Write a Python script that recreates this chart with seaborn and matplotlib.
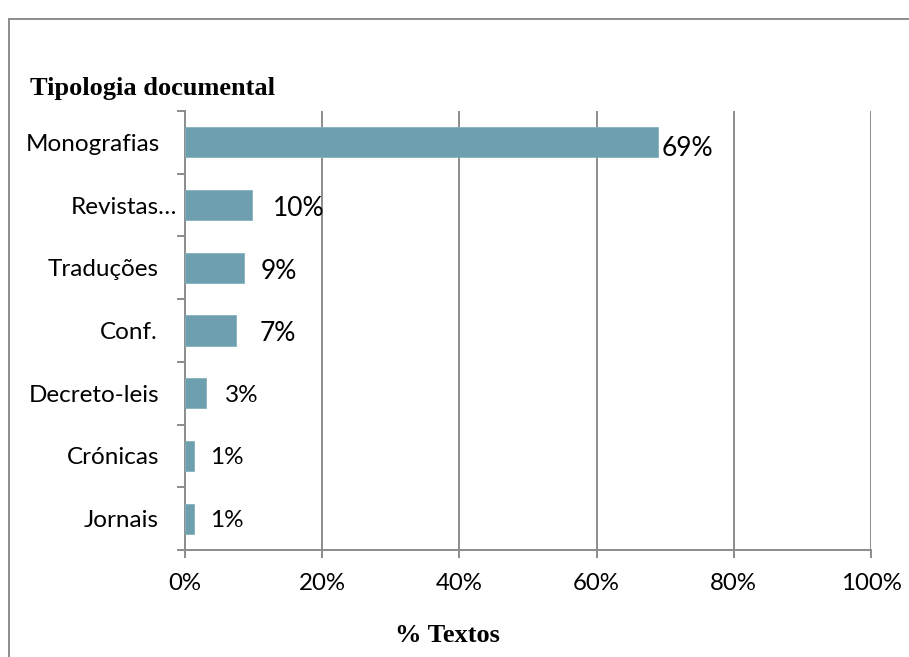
import matplotlib
matplotlib.use("Agg")
import matplotlib.pyplot as plt
from matplotlib.patches import Rectangle
from matplotlib.ticker import FixedLocator, PercentFormatter
import seaborn as sns
import pandas as pd

categories = ["Monografias", "Revistas…", "Traduções", "Conf.", "Decreto-leis", "Crónicas", "Jornais"]
values = [68.95, 9.8, 8.6, 7.4, 3.1, 1.3, 1.3]
value_labels = ["69%", "10%", "9%", "7%", "3%", "1%", "1%"]
x_ticks = [0, 20, 40, 60, 80, 100]

# style (not data)
label_dx_px = [4, 21, 17, 24, 19, 16, 16]
label_dy_px = [-6, -3, -4, -3, -2, -2, -2]
label_size = [19, 19, 19, 19, 17.5, 17.5, 17.5]
cat_gap_px = [25, 8, 26, 27, 26, 26, 26]

sns.set_theme(style="white")
plt.rcParams["font.family"] = ["Lato", "DejaVu Sans"]

W, H, DPI = 909, 657, 100
fig = plt.figure(figsize=(W / DPI, H / DPI), dpi=DPI)
fig.patch.set_facecolor("white")
ax = fig.add_axes([185 / W, 1 - 550 / H, (871 - 185) / W, (550 - 111) / H])

df = pd.DataFrame({"cat": categories, "val": values})
sns.barplot(data=df, x="val", y="cat", orient="h", color="#6E9FAF",
            saturation=1, width=0.48, ax=ax, edgecolor="#86B0BE", linewidth=0.6, zorder=3)

grid_c = "#8C8C8C"
ax.set_xlim(0, 100)
ax.set_ylim(len(categories) - 0.5, -0.5)
ax.xaxis.set_major_locator(FixedLocator(x_ticks))
ax.xaxis.set_major_formatter(PercentFormatter(decimals=0))
ax.grid(axis="x", color=grid_c, linewidth=1.4, zorder=0)
ax.grid(axis="y", visible=False)

for s in ["top", "right"]:
    ax.spines[s].set_visible(False)
for s in ["left", "bottom"]:
    ax.spines[s].set_color(grid_c)
    ax.spines[s].set_linewidth(1.4)

ax.tick_params(axis="x", which="major", length=5.5, width=1.4, color=grid_c,
               labelsize=17.3, pad=11, labelcolor="black", bottom=True)
# y: ticks at category boundaries; labels drawn as text
ax.set_yticks(range(len(categories)))
ax.set_yticklabels([""] * len(categories))
ax.tick_params(axis="y", which="major", length=0)
ax.yaxis.set_minor_locator(FixedLocator([i - 0.5 for i in range(len(categories) + 1)]))
ax.tick_params(axis="y", which="minor", length=5.5, width=1.4, color=grid_c, left=True)

ax.set_xlabel("")
ax.set_ylabel("")

for i, cat in enumerate(categories):
    ax.annotate(cat, xy=(0, i), xytext=(-cat_gap_px[i] * 0.72, -2 * 0.72),
                textcoords="offset points", ha="right", va="center",
                fontsize=17.5, color="black", annotation_clip=False)

for i, (v, lab) in enumerate(zip(values, value_labels)):
    ax.annotate(lab, xy=(v, i), xytext=(label_dx_px[i] * 0.72, label_dy_px[i] * 0.72),
                textcoords="offset points", ha="left", va="center",
                fontsize=label_size[i], color="black", zorder=4)

fig.text(30 / W, 1 - 88 / H, "Tipologia documental", family="Liberation Serif",
         weight="bold", fontsize=19, ha="left", va="center", color="black")
fig.text(447 / W, 1 - 635 / H, "% Textos", family="Liberation Serif",
         weight="bold", fontsize=19, ha="center", va="center", color="black")

fig.patches.append(Rectangle((9 / W, -0.1), 1.2, 1.1 - 19 / H, transform=fig.transFigure,
                             fill=False, edgecolor="#8C8C8C", linewidth=1.4))

fig.savefig("out.png", dpi=DPI)
